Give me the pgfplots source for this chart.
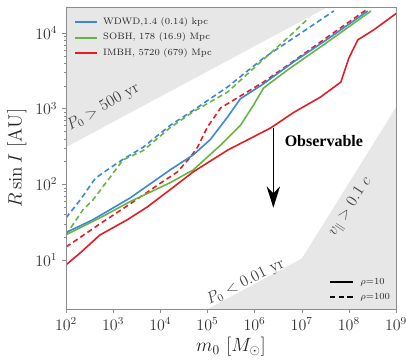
\documentclass[border=0pt]{standalone}
\usepackage{fontspec}
\newfontfamily\timesfont{Liberation Serif}
\usepackage{pgfplots}
\pgfplotsset{compat=1.18}
\usetikzlibrary{arrows.meta}
\definecolor{cblue}{RGB}{60,135,215}
\definecolor{cgreen}{RGB}{105,180,70}
\definecolor{cred}{RGB}{225,30,35}
\definecolor{shade}{RGB}{231,231,231}
\begin{document}
\begin{tikzpicture}
\begin{axis}[
  scale only axis, width=247.5pt, height=226.5pt,
  xmode=log, ymode=log,
  xmin=1e2, xmax=1e9, ymin=2.25, ymax=2.2e4,
  xtick={1e2,1e3,1e4,1e5,1e6,1e7,1e8,1e9},
  ytick={1e1,1e2,1e3,1e4},
  xminorticks=false,
  axis on top,
  axis line style={black!45},
  tick style={black!45},
  major tick length=3pt, minor tick length=1.8pt,
  tick align=outside,
  xtick pos=bottom, ytick pos=left,
  tick label style={font=\large, text=black!80},
  xlabel={$m_0\ [M_\odot]$}, ylabel={$R\sin I\ [\mathrm{AU}]$},
  label style={font=\Large, text=black!85},
  xlabel style={at={(axis description cs:0.5,-0.126)}, anchor=center},
  ylabel style={at={(axis description cs:-0.149,0.5)}, anchor=center},
]
% shaded regions
\addplot[fill=shade, draw=none, forget plot] coordinates {(1e2,310) (1e8,3.1e4) (1e2,3.1e4)} -- cycle;
\addplot[fill=shade, draw=none, forget plot] coordinates {(1e4,1.04) (1e7,10.4) (1e9,1040) (1e10,10400) (1e10,0.5) (1e4,0.5)} -- cycle;
% dashed (rho=100)
\addplot[cblue, line width=1.2pt, dash pattern=on 4pt off 2.5pt, forget plot] coordinates {
 (100,36) (200,62) (417,120) (871,165) (1550,210) (4370,310) (16200,600) (50100,950) (269000,1940) (1.55e6,4650) (6.76e6,8600) (4.8e7,1.95e4)};
\addplot[cgreen, line width=1.2pt, dash pattern=on 4pt off 2.5pt, forget plot] coordinates {
 (100,21.5) (123,26) (229,46) (372,62) (871,125) (1620,210) (4370,280) (16200,560) (50100,910) (269000,1660) (1.35e6,4150) (5.89e6,9400) (1.41e7,1.58e4)};
\addplot[cred, line width=1.2pt, dash pattern=on 4pt off 2.5pt, forget plot] coordinates {
 (100,14.8) (525,30) (2290,55) (10000,103) (22900,145) (43700,229) (61700,310) (1e5,570) (190500,1020) (501000,1470) (1.55e6,2240) (6.76e6,4250) (3.55e7,8850) (2.51e8,2.08e4)};
% solid (rho=10)
\addplot[cblue, line width=1.2pt, forget plot] coordinates {
 (100,23) (372,34) (2290,66) (16200,155) (50100,245) (115000,390) (269000,780) (501000,1350) (1.55e6,2130) (6.76e6,4150) (3.55e7,8300) (2.51e8,1.95e4)};
\addplot[cgreen, line width=1.2pt, forget plot] coordinates {
 (100,21.5) (525,36) (2290,59) (16200,105) (50100,155) (190500,330) (501000,600) (955000,1120) (1.55e6,1870) (5.01e6,3240) (3.55e7,7600) (2.95e8,1.95e4)};
\addplot[cred, line width=1.2pt, forget plot] coordinates {
 (100,8.6) (200,12.4) (525,21.4) (2000,34) (5250,50) (16200,85) (50100,146) (269000,283) (2.19e6,555) (6.76e6,890) (2.5e7,1420) (6.76e7,2240) (1e8,4650) (1.55e8,8100) (3.39e8,1.1e4) (1e9,1.8e4)};
% legend (series)
\draw[cblue, line width=1.4pt] (axis description cs:0.027,0.950) -- (axis description cs:0.094,0.950);
\draw[cgreen, line width=1.4pt] (axis description cs:0.027,0.8975) -- (axis description cs:0.094,0.8975);
\draw[cred, line width=1.4pt] (axis description cs:0.027,0.848) -- (axis description cs:0.094,0.848);
\node[anchor=west, inner sep=0pt, font=\fontsize{7}{8}\selectfont, text=black!85] at (axis description cs:0.112,0.950) {WDWD,1.4 (0.14) kpc};
\node[anchor=west, inner sep=0pt, font=\fontsize{7}{8}\selectfont, text=black!85] at (axis description cs:0.112,0.899) {SOBH, 178 (16.9) Mpc};
\node[anchor=west, inner sep=0pt, font=\fontsize{7}{8}\selectfont, text=black!85] at (axis description cs:0.112,0.848) {IMBH, 5720 (679) Mpc};
% legend (rho)
\draw[black, line width=1.4pt] (axis description cs:0.800,0.089) -- (axis description cs:0.870,0.089);
\draw[black, line width=1.4pt, dash pattern=on 4pt off 2.5pt] (axis description cs:0.800,0.040) -- (axis description cs:0.870,0.040);
\node[anchor=west, inner sep=0pt, font=\fontsize{7}{8}\selectfont, text=black!85] at (axis description cs:0.891,0.089) {$\rho{=}10$};
\node[anchor=west, inner sep=0pt, font=\fontsize{7}{8}\selectfont, text=black!85] at (axis description cs:0.891,0.040) {$\rho{=}100$};
% annotations
\draw[black, line width=1.2pt, -{Stealth[length=16pt,width=10pt]}] (axis cs:2.5e6,556) -- (axis cs:2.5e6,49);
\node[font=\timesfont\bfseries\fontsize{12}{14}\selectfont] at (axis cs:2.95e7,370) {Observable};
\node[font=\large, rotate=30, text=black!75] at (axis cs:617,1050) {$P_0 > 500$ yr};
\node[font=\large, rotate=27, text=black!75] at (axis cs:6.46e5,5.1) {$P_0 < 0.01$ yr};
\node[font=\large, rotate=57, text=black!75] at (axis cs:1.1e8,50) {$v_\parallel > 0.1\ c$};
\end{axis}
\pgfresetboundingbox
\path (current axis.south west) +(-49.5pt,-39pt) (current axis.north east) +(7.5pt,5.25pt);
\end{tikzpicture}
\end{document}
